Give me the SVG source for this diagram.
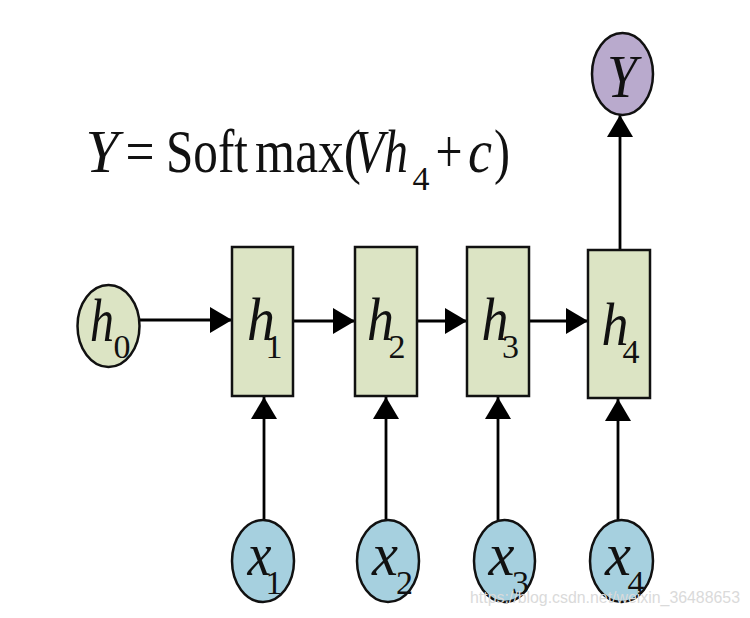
<svg xmlns="http://www.w3.org/2000/svg" width="750" height="618" viewBox="0 0 750 618">
<defs>
<marker id="arr" viewBox="0 0 22 26" refX="22" refY="13" markerWidth="22" markerHeight="26" markerUnits="userSpaceOnUse" orient="auto">
<path d="M0,0 L22,13 L0,26 Z" fill="#000"/>
</marker>
<style>
.box{fill:#dce4c4;stroke:#111;stroke-width:2.5}
.hnode{fill:#dce4c4;stroke:#111;stroke-width:2.5}
.ynode{fill:#b9aacd;stroke:#111;stroke-width:2.5}
.xnode{fill:#a6d0df;stroke:#111;stroke-width:2.5}
.edge{stroke:#000;stroke-width:2.8;fill:none;marker-end:url(#arr)}
.lbl{font-family:"Liberation Serif","Times New Roman",serif;fill:#111;text-anchor:middle;font-size:62px}
.it{font-style:italic}
.sub{font-style:normal;font-size:34px}
</style>
</defs>
<rect width="750" height="618" fill="#fff"/>

<g id="formula">
<text class="lbl" y="172"><tspan class="it" x="102" textLength="33" lengthAdjust="spacingAndGlyphs">Y</tspan><tspan x="140" textLength="29" lengthAdjust="spacingAndGlyphs">=</tspan><tspan x="207" textLength="82" lengthAdjust="spacingAndGlyphs">Soft</tspan><tspan x="308" textLength="106" lengthAdjust="spacingAndGlyphs">max(</tspan><tspan class="it" x="369" textLength="30" lengthAdjust="spacingAndGlyphs">V</tspan><tspan class="it" x="396" textLength="24" lengthAdjust="spacingAndGlyphs">h</tspan><tspan class="sub" x="421" y="190">4</tspan><tspan x="449" y="172" textLength="27" lengthAdjust="spacingAndGlyphs">+</tspan><tspan class="it" x="480" textLength="24" lengthAdjust="spacingAndGlyphs">c</tspan><tspan x="502" textLength="16" lengthAdjust="spacingAndGlyphs">)</tspan></text>
</g>

<g id="connectors">
<line class="edge" x1="140" y1="320" x2="232" y2="320"/>
<line class="edge" x1="293" y1="321" x2="355" y2="321"/>
<line class="edge" x1="417" y1="321" x2="467" y2="321"/>
<line class="edge" x1="529" y1="321" x2="588" y2="321"/>
<line class="edge" x1="620" y1="250" x2="620" y2="115"/>
<line class="edge" x1="264" y1="520" x2="264" y2="397"/>
<line class="edge" x1="386" y1="520" x2="386" y2="397"/>
<line class="edge" x1="498" y1="520" x2="498" y2="397"/>
<line class="edge" x1="618" y1="520" x2="618" y2="399"/>
</g>

<g id="h0">
<ellipse class="hnode" cx="108.5" cy="326" rx="31" ry="41"/>
<text class="lbl"><tspan class="it" x="102" y="341" textLength="24" lengthAdjust="spacingAndGlyphs">h</tspan><tspan class="sub" x="122" y="358">0</tspan></text>
</g>
<g id="h1">
<rect class="box" x="232" y="247" width="61" height="149"/>
<text class="lbl" font-size="64"><tspan class="it" x="261" y="340" textLength="28" lengthAdjust="spacingAndGlyphs">h</tspan><tspan class="sub" x="274" y="358">1</tspan></text>
</g>
<g id="h2">
<rect class="box" x="355" y="247" width="62" height="149"/>
<text class="lbl"><tspan class="it" x="380.5" y="340" textLength="27" lengthAdjust="spacingAndGlyphs">h</tspan><tspan class="sub" x="397" y="358">2</tspan></text>
</g>
<g id="h3">
<rect class="box" x="467" y="247" width="62" height="149"/>
<text class="lbl"><tspan class="it" x="495" y="340" textLength="27" lengthAdjust="spacingAndGlyphs">h</tspan><tspan class="sub" x="510.5" y="358">3</tspan></text>
</g>
<g id="h4">
<rect class="box" x="588" y="250" width="62" height="148"/>
<text class="lbl"><tspan class="it" x="615" y="345" textLength="27" lengthAdjust="spacingAndGlyphs">h</tspan><tspan class="sub" x="631" y="363">4</tspan></text>
</g>
<g id="Y">
<ellipse class="ynode" cx="622.5" cy="74" rx="30.5" ry="41"/>
<text class="lbl it" x="622" y="97" textLength="30" lengthAdjust="spacingAndGlyphs">Y</text>
</g>
<g id="x1">
<ellipse class="xnode" cx="263" cy="561" rx="31" ry="41"/>
<text class="lbl"><tspan class="it" x="259.5" y="575" textLength="24" lengthAdjust="spacingAndGlyphs">x</tspan><tspan class="sub" x="274" y="594">1</tspan></text>
</g>
<g id="x2">
<ellipse class="xnode" cx="388" cy="561" rx="31" ry="41"/>
<text class="lbl"><tspan class="it" x="385" y="575" textLength="26" lengthAdjust="spacingAndGlyphs">x</tspan><tspan class="sub" x="404.5" y="594">2</tspan></text>
</g>
<g id="x3">
<ellipse class="xnode" cx="504.5" cy="561" rx="30.5" ry="41"/>
<text class="lbl"><tspan class="it" x="501.5" y="575" textLength="26" lengthAdjust="spacingAndGlyphs">x</tspan><tspan class="sub" x="520.5" y="594">3</tspan></text>
</g>
<g id="x4">
<ellipse class="xnode" cx="621.5" cy="561" rx="31.5" ry="41"/>
<text class="lbl"><tspan class="it" x="618" y="575" textLength="26" lengthAdjust="spacingAndGlyphs">x</tspan><tspan class="sub" x="636" y="594">4</tspan></text>
</g>

<text x="470" y="603" font-family="Liberation Sans, Arial, sans-serif" font-size="16" fill="#dadada" textLength="270" lengthAdjust="spacingAndGlyphs">https://blog.csdn.net/weixin_36488653</text>
</svg>
